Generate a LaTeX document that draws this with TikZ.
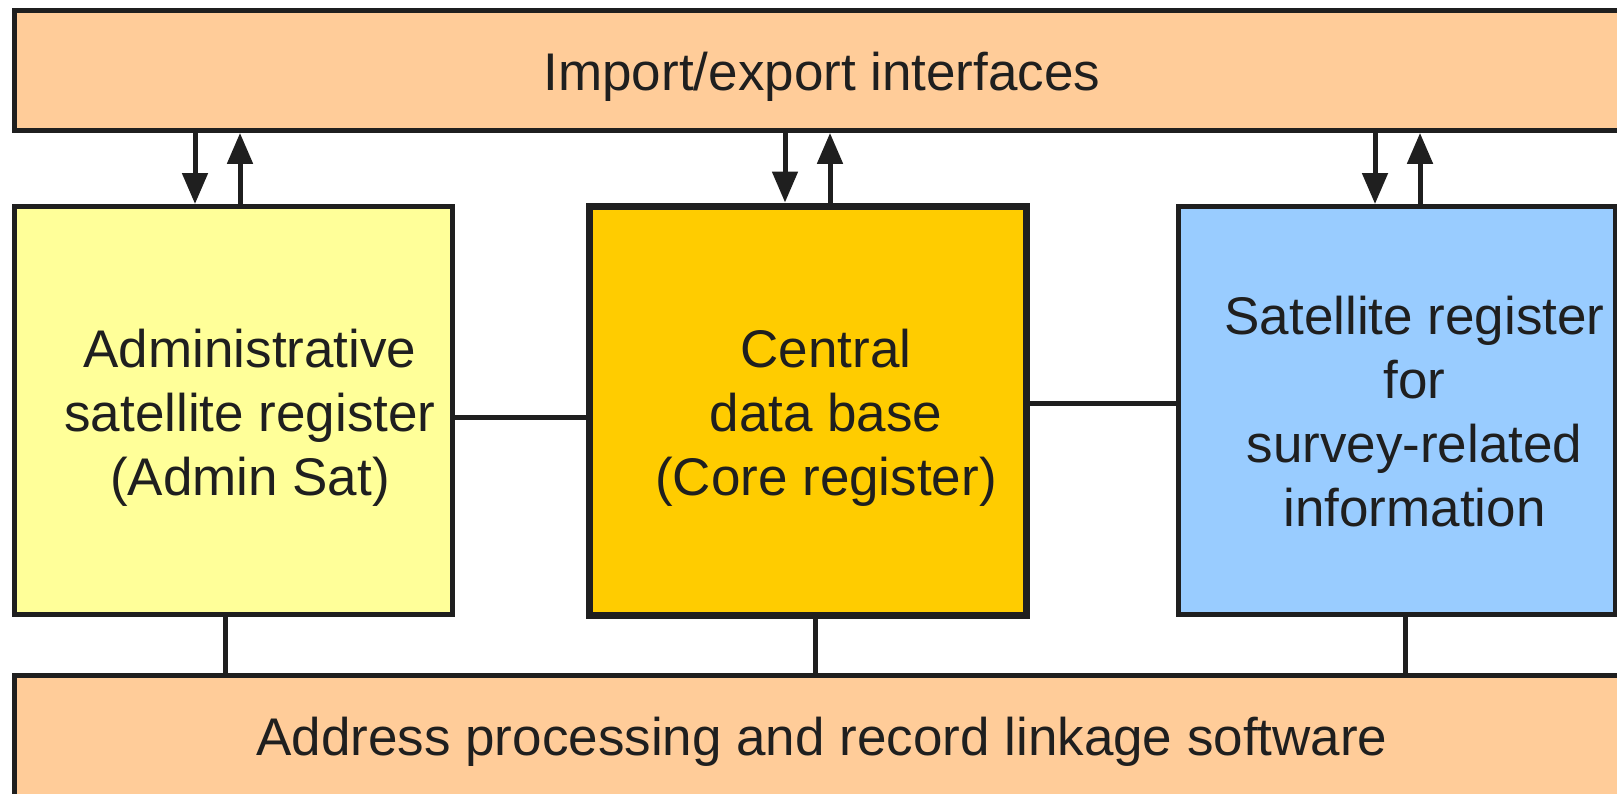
\documentclass[tikz,border=0pt]{standalone}
\usepackage{fontspec}
\setmainfont{Liberation Sans}
\usetikzlibrary{arrows.meta}
\definecolor{ink}{HTML}{1F1F1F}
\definecolor{peach}{HTML}{FFCC99}
\definecolor{paleyellow}{HTML}{FFFF99}
\definecolor{gold}{HTML}{FFCC00}
\definecolor{skyblue}{HTML}{99CCFF}

\begin{document}
\begin{tikzpicture}[x=1pt,y=-1pt,
  box/.style={draw=ink, line width=5pt, rectangle, inner sep=0pt},
  boxtext/.style={text=ink, font=\fontsize{53}{64}\selectfont, align=center, inner sep=0pt},
  arr/.style={draw=ink, line width=5pt, -{Triangle[length=31pt,width=25pt]}},
  link/.style={draw=ink, line width=5pt}]

\useasboundingbox (0,0) rectangle (1617,793);
\fill[white] (0,0) rectangle (1617,793);
\clip (0,0) rectangle (1617,793);

% interface layer
\node[box, fill=peach, minimum width=1626pt, minimum height=120pt] (io) at (827,70.4) {};
\node[boxtext, anchor=base] (iotext) at (822,90) {Import/export interfaces};

% registers
\node[box, fill=paleyellow, minimum width=438pt, minimum height=408pt] (admin) at (233,410.5) {};
\node[boxtext] (admintext) at (250,419) {\strut Administrative\\\strut satellite register\\\strut (Admin Sat)};

\node[box, line width=7pt, fill=gold, minimum width=437.5pt, minimum height=409pt] (core) at (807.75,410.5) {};
\node[boxtext] (coretext) at (826,419) {\strut Central\\\strut data base\\\strut (Core register)};

\node[box, fill=skyblue, minimum width=437pt, minimum height=408pt] (survey) at (1396.5,410.5) {};
\node[boxtext] (surveytext) at (1414.5,417.6) {\strut Satellite register\\\strut for\\\strut survey-related\\\strut information};

% software layer
\node[box, fill=peach, minimum width=1626pt, minimum height=155pt] (addr) at (827,752.5) {};
\node[boxtext, anchor=base] (addrtext) at (822,755) {Address processing and record linkage software};

% data exchange with the interface layer
\draw[arr] ([xshift=-38pt]admin.north |- io.south) -- ([xshift=-38pt]admin.north);
\draw[arr] ([xshift=7pt]admin.north) -- ([xshift=7pt]admin.north |- io.south);
\draw[arr] ([xshift=-22.75pt]core.north |- io.south) -- ([xshift=-22.75pt]core.north);
\draw[arr] ([xshift=22.25pt]core.north) -- ([xshift=22.25pt]core.north |- io.south);
\draw[arr] ([xshift=-21.5pt]survey.north |- io.south) -- ([xshift=-21.5pt]survey.north);
\draw[arr] ([xshift=23.5pt]survey.north) -- ([xshift=23.5pt]survey.north |- io.south);

% links between registers
\draw[link] ([yshift=-6.5pt]admin.east) -- ([yshift=-6.5pt]admin.east -| core.west);
\draw[link] ([yshift=7.5pt]core.east) -- ([yshift=7.5pt]core.east -| survey.west);

% links to the software layer
\draw[link] ([xshift=-8pt]admin.south) -- ([xshift=-8pt]admin.south |- addr.north);
\draw[link] ([xshift=7.25pt]core.south) -- ([xshift=7.25pt]core.south |- addr.north);
\draw[link] ([xshift=8.5pt]survey.south) -- ([xshift=8.5pt]survey.south |- addr.north);
\end{tikzpicture}
\end{document}
